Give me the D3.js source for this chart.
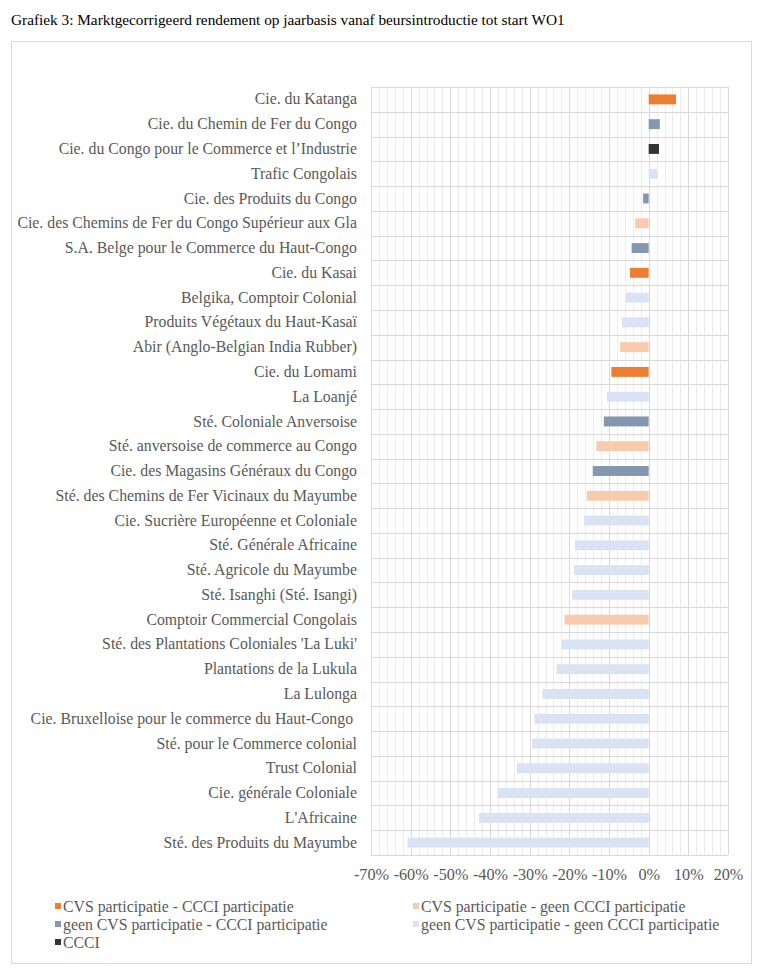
<!DOCTYPE html>
<html>
<head>
<meta charset="utf-8">
<script src="https://cdn.jsdelivr.net/npm/d3@7"></script>
<style>
  html, body { margin: 0; padding: 0; background: #fff; }
  svg { display: block; }
  svg text { font-family: "Liberation Serif", "Times New Roman", serif !important; }
</style>
</head>
<body>
<svg id="chart" width="760" height="976"></svg>
<script>
// ---- DATA ----
const title = "Grafiek 3: Marktgecorrigeerd rendement op jaarbasis vanaf beursintroductie tot start WO1";

const companies = [
  "Cie. du Katanga",
  "Cie. du Chemin de Fer du Congo",
  "Cie. du Congo pour le Commerce et l\u2019Industrie",
  "Trafic Congolais",
  "Cie. des Produits du Congo",
  "Cie. des Chemins de Fer du Congo Supérieur aux Gla",
  "S.A. Belge pour le Commerce du Haut-Congo",
  "Cie. du Kasai",
  "Belgika, Comptoir Colonial",
  "Produits Végétaux du Haut-Kasaï",
  "Abir (Anglo-Belgian India Rubber)",
  "Cie. du Lomami",
  "La Loanjé",
  "Sté. Coloniale Anversoise",
  "Sté. anversoise de commerce au Congo",
  "Cie. des Magasins Généraux du Congo",
  "Sté. des Chemins de Fer Vicinaux du Mayumbe",
  "Cie. Sucrière Européenne et Coloniale",
  "Sté. Générale Africaine",
  "Sté. Agricole du Mayumbe",
  "Sté. Isanghi (Sté. Isangi)",
  "Comptoir Commercial Congolais",
  "Sté. des Plantations Coloniales 'La Luki'",
  "Plantations de la Lukula",
  "La Lulonga",
  "Cie. Bruxelloise pour le commerce du Haut-Congo ",
  "Sté. pour le Commerce colonial",
  "Trust Colonial",
  "Cie. générale Coloniale",
  "L'Africaine",
  "Sté. des Produits du Mayumbe"
];

// annualised market-adjusted return (fraction)
const returns = [
  0.069, 0.028, 0.026, 0.023, -0.014, -0.034, -0.043, -0.047,
  -0.058, -0.068, -0.072, -0.094, -0.105, -0.113, -0.132, -0.141,
  -0.156, -0.163, -0.186, -0.188, -0.193, -0.212, -0.219, -0.232,
  -0.268, -0.288, -0.294, -0.332, -0.381, -0.428, -0.608
];

// series index for each company (0..4, see seriesNames)
const seriesOf = [
  0, 2, 4, 3, 2, 1, 2, 0,
  3, 3, 1, 0, 3, 2, 1, 2,
  1, 3, 3, 3, 3, 1, 3, 3,
  3, 3, 3, 3, 3, 3, 3
];

const seriesNames = [
  "CVS participatie - CCCI participatie",
  "CVS participatie - geen CCCI participatie",
  "geen CVS participatie - CCCI participatie",
  "geen CVS participatie - geen CCCI participatie",
  "CCCI"
];
const seriesColors = ["#ED7D31", "#F8CBAD", "#8497B0", "#DAE3F3", "#333333"];

const xTicks = [-0.7, -0.6, -0.5, -0.4, -0.3, -0.2, -0.1, 0, 0.1, 0.2];

// ---- LAYOUT ----
const svg = d3.select("#chart");
const plot = { left: 371, right: 728, top: 87, bottom: 855 };
const textColor = "#595959";

// outer frame
svg.append("rect")
  .attr("x", 11.5).attr("y", 41.5)
  .attr("width", 740).attr("height", 922)
  .attr("fill", "#fff").attr("stroke", "#d9d9d9").attr("stroke-width", 1);

// title
svg.append("text")
  .attr("x", 11).attr("y", 25)
  .style("font-size", "15.3px")
  .attr("fill", "#000")
  .text(title);

const x = d3.scaleLinear().domain([-0.7, 0.2]).range([plot.left, plot.right]);
const y = d3.scaleBand().domain(companies)
  .range([plot.top, plot.bottom])
  .paddingInner(0.6).paddingOuter(0.3);

const data = companies.map((c, i) => ({ name: c, value: returns[i], series: seriesOf[i] }));

// minor vertical gridlines (every 2%)
const minorVals = d3.range(-70, 21, 2).filter(v => Math.abs(v) % 10 !== 0).map(v => v / 100);
svg.append("g").selectAll("line").data(minorVals).join("line")
  .attr("x1", d => Math.round(x(d)) + 0.5).attr("x2", d => Math.round(x(d)) + 0.5)
  .attr("y1", plot.top).attr("y2", plot.bottom)
  .attr("stroke", "#ececec").attr("stroke-width", 1);

// horizontal row gridlines
const step = y.step();
const rowLines = d3.range(companies.length + 1).map(i => plot.top + i * step);
svg.append("g").selectAll("line").data(rowLines).join("line")
  .attr("x1", plot.left).attr("x2", plot.right)
  .attr("y1", d => Math.round(d) + 0.5).attr("y2", d => Math.round(d) + 0.5)
  .attr("stroke", "#d9d9d9").attr("stroke-width", 1);

// major vertical gridlines
svg.append("g").selectAll("line").data(xTicks).join("line")
  .attr("x1", d => Math.round(x(d)) + 0.5).attr("x2", d => Math.round(x(d)) + 0.5)
  .attr("y1", plot.top).attr("y2", plot.bottom)
  .attr("stroke", "#d9d9d9").attr("stroke-width", 1);

// bars
svg.append("g").selectAll("rect").data(data).join("rect")
  .attr("x", d => x(Math.min(0, d.value)))
  .attr("y", d => y(d.name))
  .attr("width", d => Math.abs(x(d.value) - x(0)))
  .attr("height", y.bandwidth())
  .attr("fill", d => seriesColors[d.series]);

// x axis labels
const xAxis = d3.axisBottom(x)
  .tickValues(xTicks)
  .tickSize(0)
  .tickPadding(13)
  .tickFormat(d => Math.round(d * 100) + "%");
const gx = svg.append("g")
  .attr("transform", `translate(0,${plot.bottom})`)
  .call(xAxis);
gx.select(".domain").remove();
gx.selectAll("text")
  .style("font-size", "16.2px")
  .attr("fill", textColor);

// category labels
const yAxis = d3.axisLeft(y).tickSize(0).tickPadding(14);
const gy = svg.append("g")
  .attr("transform", `translate(${plot.left},0)`)
  .call(yAxis);
gy.select(".domain").remove();
gy.selectAll("text")
  .style("font-size", "15.8px")
  .style("white-space", "pre")
  .attr("fill", textColor);

// legend
const legendPos = [
  { x: 55, y: 907 }, { x: 413, y: 907 },
  { x: 55, y: 925 }, { x: 413, y: 925 },
  { x: 55, y: 943 }
];
const lg = svg.append("g").selectAll("g").data(seriesNames).join("g")
  .attr("transform", (d, i) => `translate(${legendPos[i].x},${legendPos[i].y})`);
lg.append("rect")
  .attr("x", 0).attr("y", -4).attr("width", 6).attr("height", 6)
  .attr("fill", (d, i) => seriesColors[i]);
lg.append("text")
  .attr("x", 8).attr("y", 0).attr("dy", "0.3em")
  .style("font-size", "15.8px")
  .attr("fill", textColor)
  .text(d => d);
</script>
</body>
</html>
